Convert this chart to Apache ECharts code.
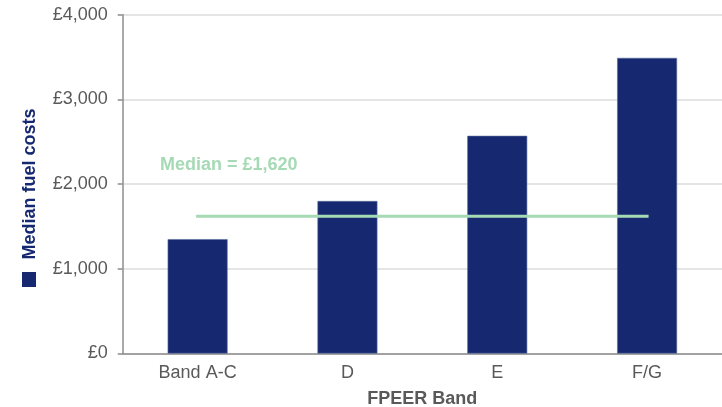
<!DOCTYPE html>
<html>
<head>
<meta charset="utf-8">
<title>Median fuel costs by FPEER Band</title>
<script src="https://cdn.jsdelivr.net/npm/echarts@6/dist/echarts.min.js"></script>
<style>
  html, body { margin: 0; padding: 0; background: #ffffff; }
  #chart { width: 722px; height: 407px; }
</style>
</head>
<body>
<div id="chart"></div>
<script>
// FPEER bands and the median fuel cost in each band (£)
const categories = ['Band A-C', 'D', 'E', 'F/G'];
const medianCosts = [1350, 1800, 2570, 3490];
// Median fuel cost across all households (£)
const overallMedian = 1620;
// Value-axis ticks (£)
const yTicks = [0, 1000, 2000, 3000, 4000];

const NAVY = '#152870';
const GREEN = '#a6dab5';
const GREY_TEXT = '#595959';
const AXIS_GREY = '#8c8c8c';
const FONT = '"Liberation Sans", Arial, sans-serif';

const gbp = v => '£' + v.toLocaleString('en-GB');

// The overall median drawn as a flat line from the first band to the last
const medianLine = categories.map(() => overallMedian);

const chart = echarts.init(document.getElementById('chart'), null, { renderer: 'canvas' });

chart.setOption({
  animation: false,
  backgroundColor: '#ffffff',
  textStyle: { fontFamily: FONT },
  grid: {
    left: 122.7, top: 14.7, right: 0, bottom: 53.5,
    containLabel: false, outerBoundsMode: 'none'
  },
  legend: {
    left: 22, top: 272, padding: 0,
    itemWidth: 14, itemHeight: 15, icon: 'rect',
    formatter: () => '',
    data: [{ name: 'Median fuel costs', itemStyle: { color: NAVY, borderWidth: 0 } }],
    selectedMode: false
  },
  xAxis: {
    type: 'category',
    data: categories,
    boundaryGap: true,
    axisLine: { lineStyle: { color: AXIS_GREY, width: 1.5 } },
    axisTick: { length: 5, lineStyle: { color: AXIS_GREY, width: 1.5 } },
    axisLabel: { color: GREY_TEXT, fontSize: 18, margin: 11, fontFamily: FONT },
    name: 'FPEER Band',
    nameLocation: 'middle',
    nameGap: 37,
    nameTextStyle: { color: GREY_TEXT, fontSize: 18, fontWeight: 'bold', fontFamily: FONT }
  },
  yAxis: {
    type: 'value',
    min: yTicks[0],
    max: yTicks[yTicks.length - 1],
    interval: yTicks[1] - yTicks[0],
    axisLine: { show: true, lineStyle: { color: AXIS_GREY, width: 1.5 } },
    axisTick: { show: true, length: 5, lineStyle: { color: AXIS_GREY, width: 1.5 } },
    axisLabel: { color: GREY_TEXT, fontSize: 18, margin: 15, fontFamily: FONT, formatter: gbp },
    splitLine: { lineStyle: { color: '#dcdcdc', width: 1.5 } },
    name: 'Median fuel costs',
    nameLocation: 'middle',
    nameGap: 84,
    nameRotate: 90,
    nameTextStyle: { color: NAVY, fontSize: 18, fontWeight: 'bold', fontFamily: FONT }
  },
  series: [
    {
      name: 'Median fuel costs',
      type: 'bar',
      data: medianCosts,
      barWidth: '40%',
      itemStyle: { color: NAVY, borderColor: '#5b6b9b', borderWidth: 0.6 },
      silent: true
    },
    {
      name: 'Overall median',
      type: 'line',
      data: medianLine.map((v, i) => i === 0 ? {
        value: v,
        label: {
          show: true,
          formatter: () => 'Median = ' + gbp(overallMedian),
          position: [-37.7, -51],
          align: 'left',
          verticalAlign: 'middle',
          color: GREEN,
          fontSize: 18,
          fontWeight: 'bold',
          fontFamily: FONT
        }
      } : v),
      symbol: 'circle',
      symbolSize: 0.01,
      showSymbol: true,
      silent: true,
      lineStyle: { color: GREEN, width: 3, cap: 'square' },
      itemStyle: { color: GREEN }
    }
  ]
});
</script>
</body>
</html>
